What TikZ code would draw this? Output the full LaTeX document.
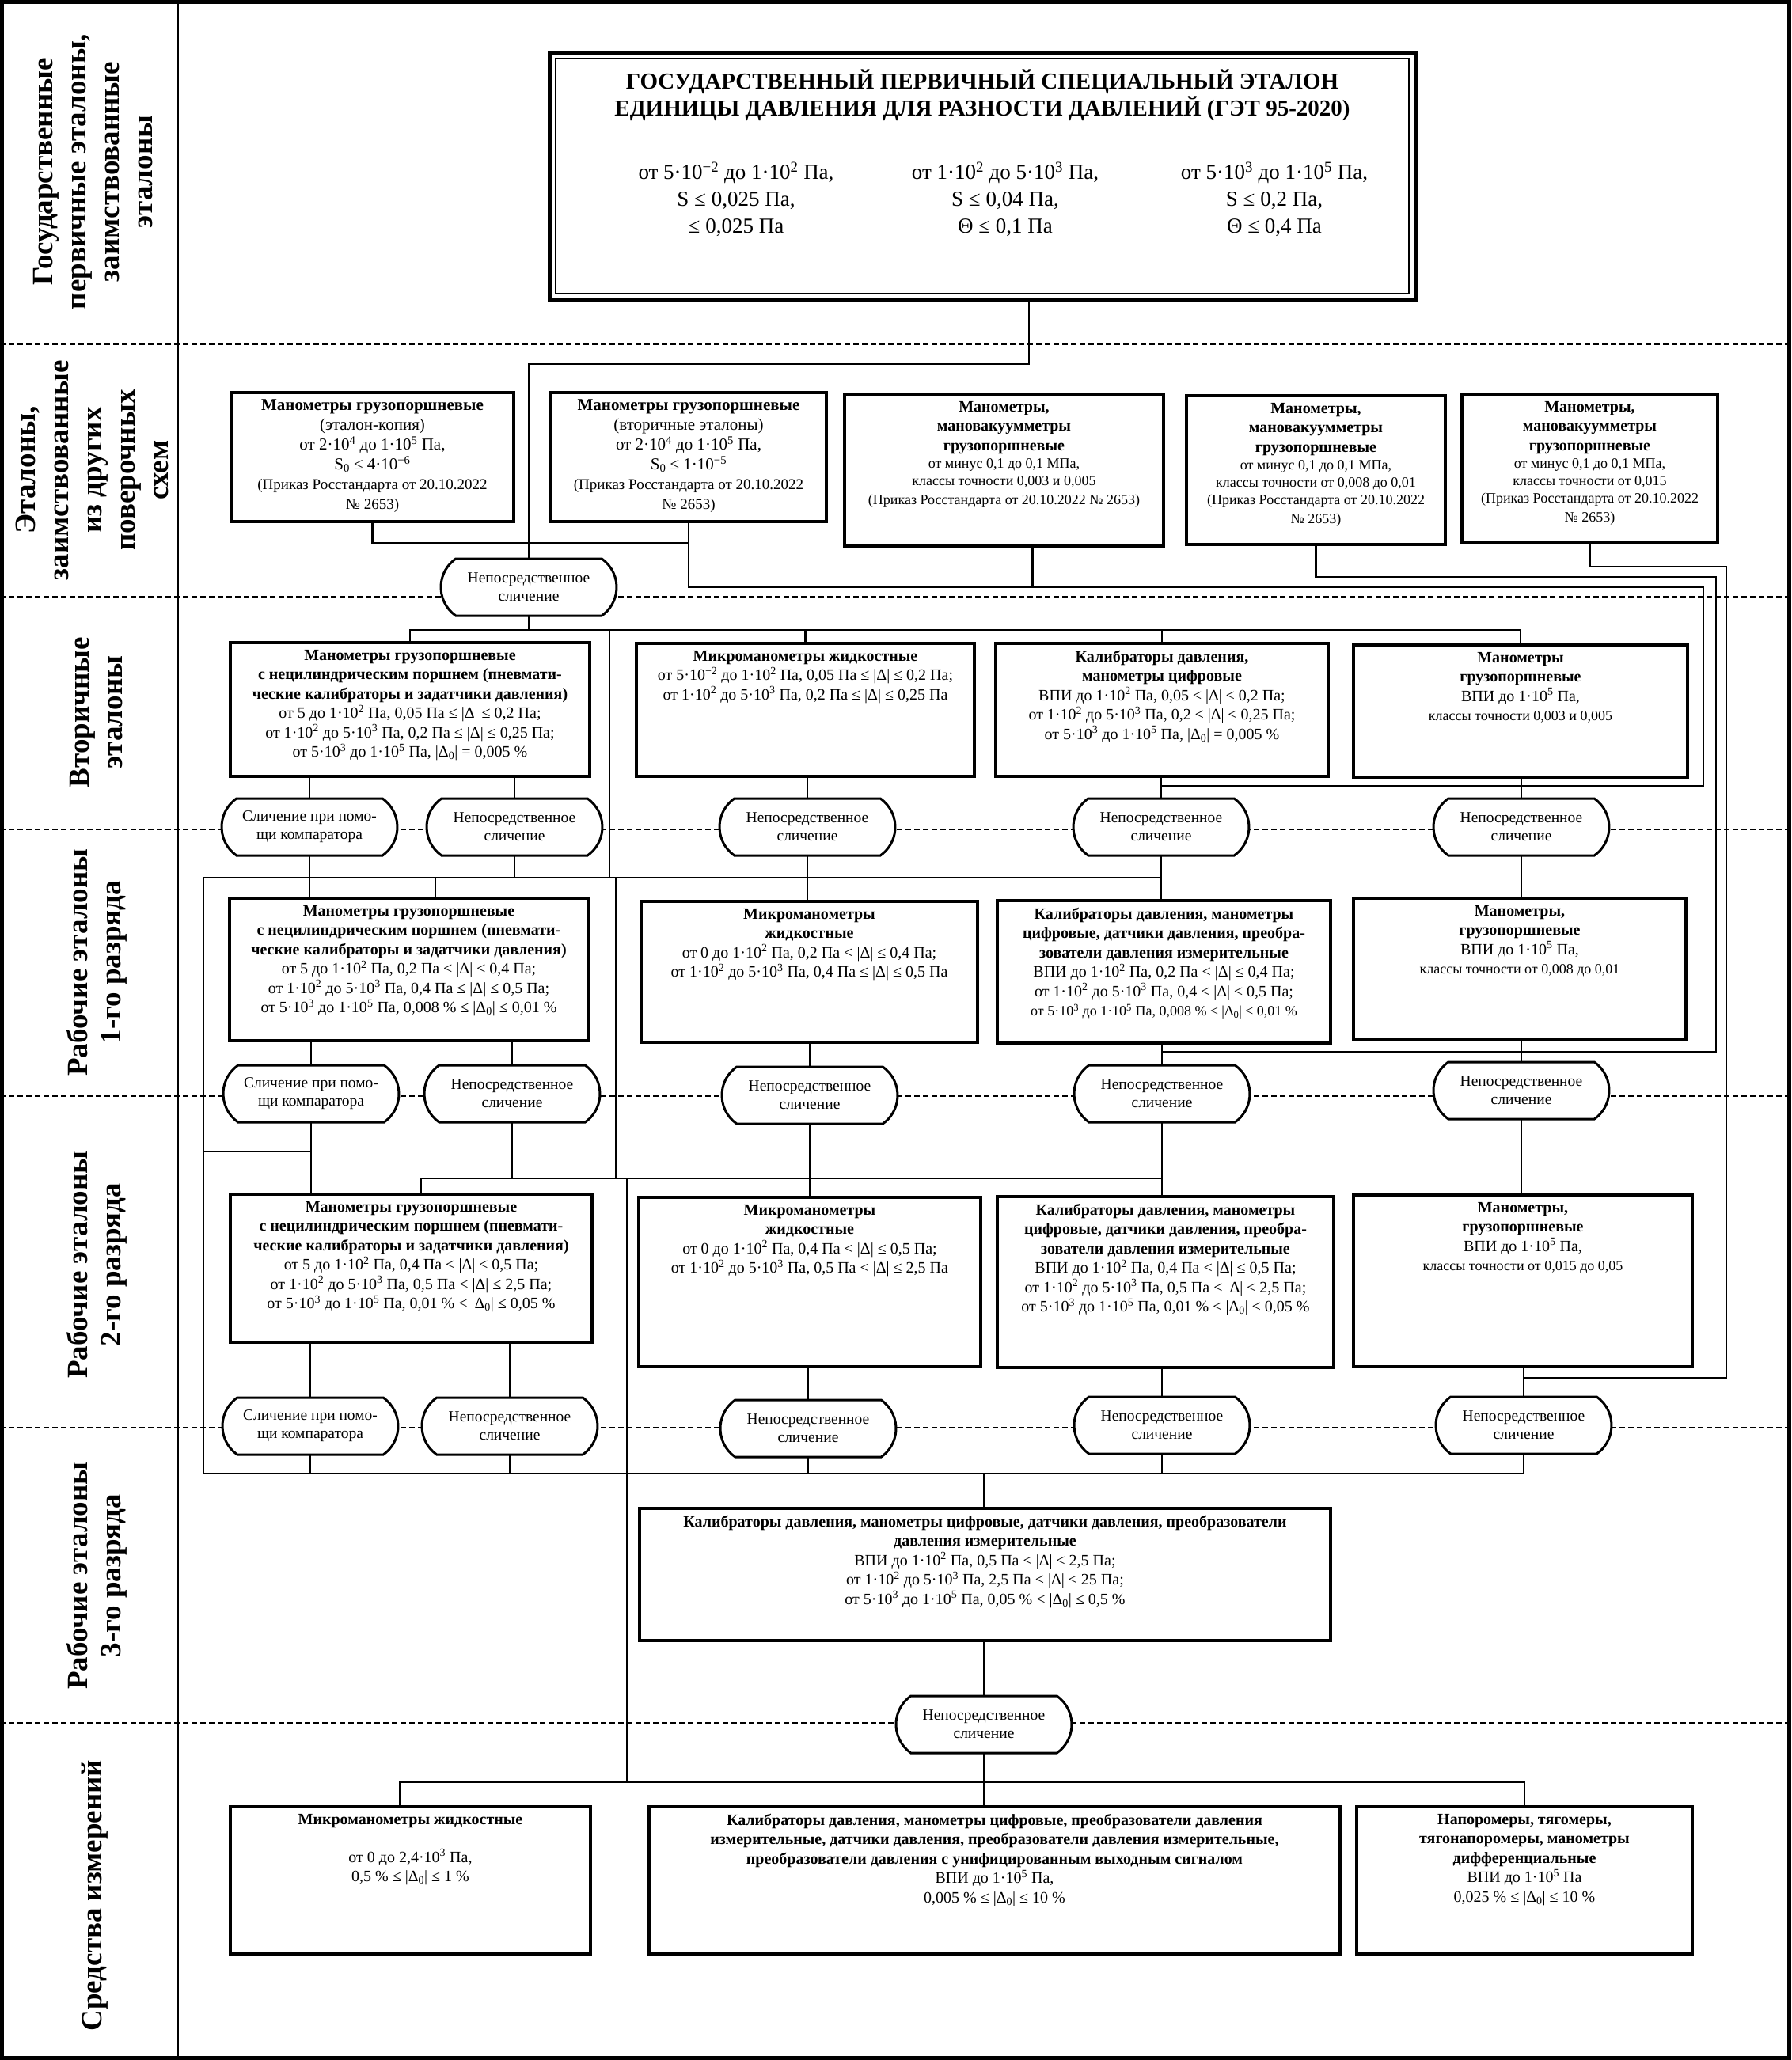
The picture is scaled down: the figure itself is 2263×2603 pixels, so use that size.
\documentclass[tikz,border=0pt]{standalone}
\usepackage{fontspec}
\setmainfont{Liberation Serif}
\usetikzlibrary{shapes.misc, positioning}

\newcommand{\boxfont}{\fontsize{20}{24.5}\selectfont}
\newcommand{\ordfont}{\fontsize{18}{22}\selectfont}
\newcommand{\cmpfont}{\fontsize{19.5}{23}\selectfont}
\newcommand{\rowfont}{\fontsize{37}{42}\selectfont\bfseries}
\newcommand{\tenp}[1]{·10\textsuperscript{#1}}
\newcommand{\dzero}{|Δ\textsubscript{0}|}
\newcommand{\boxcell}[3]{\parbox[c][#2pt][t]{#1pt}{\centering\vspace*{9pt}#3\par}}

\tikzstyle{stdbox} = [rectangle, draw=black, line width=4pt, inner sep=0pt, outer sep=0pt, anchor=north west, fill=white, font=\boxfont]
\tikzstyle{mainbox} = [rectangle, draw=black, line width=5pt, inner sep=0pt, outer sep=0pt, anchor=north west, fill=white]
\tikzstyle{compare} = [rounded rectangle, rounded rectangle arc length=110, draw=black, line width=3pt, minimum width=222pt, minimum height=72pt, inner sep=0pt, outer sep=0pt, align=center, fill=white, font=\cmpfont]
\tikzstyle{rowname} = [rotate=90, align=center, font=\rowfont]
\tikzstyle{link} = [line width=2.5pt]
\tikzstyle{divider} = [line width=2pt, dash pattern=on 7pt off 4pt]

\begin{document}
\begin{tikzpicture}[x=1pt, y=-1pt]
\useasboundingbox (0,0) rectangle (2263,2603);
\draw[line width=5pt] (2.5,2.5) rectangle (2260.5,2600.5);
\draw[line width=3pt] (224,0) -- (224,2603);
\draw[divider] (0,435) -- (2263,435);
\draw[divider] (0,754) -- (2263,754);
\draw[divider] (0,1048) -- (2263,1048);
\draw[divider] (0,1385) -- (2263,1385);
\draw[divider] (0,1804) -- (2263,1804);
\draw[divider] (0,2177) -- (2263,2177);

\node[rowname] (lab1) at (118,217) {Государственные\\первичные эталоны,\\заимствованные\\эталоны};
\node[rowname] (lab2) at (116,594) {Эталоны,\\заимствованные\\из других\\поверочных\\схем};
\node[rowname] (lab3) at (122,900) {Вторичные\\эталоны};
\node[rowname] (lab4) at (122,1216) {Рабочие эталоны\\1-го разряда};
\node[rowname] (lab5) at (122,1598) {Рабочие эталоны\\2-го разряда};
\node[rowname] (lab6) at (122,1991) {Рабочие эталоны\\3-го разряда};
\node[rowname] (lab7) at (120,2395) {Средства измерений};

\node[mainbox] (gost) at (694,66) {\parbox[c][313pt][t]{1094pt}{\centering\vspace*{22pt}%
  {\fontsize{29}{34}\selectfont\bfseries ГОСУДАРСТВЕННЫЙ ПЕРВИЧНЫЙ СПЕЦИАЛЬНЫЙ ЭТАЛОН\\ЕДИНИЦЫ ДАВЛЕНИЯ ДЛЯ РАЗНОСТИ ДАВЛЕНИЙ (ГЭТ 95-2020)\par}%
  \vspace{46pt}%
  {\fontsize{27}{34}\selectfont\hspace*{58pt}%
  \parbox[t]{340pt}{\centering от 5\tenp{−2} до 1\tenp{2} Па,\\S ≤ 0,025 Па,\\≤ 0,025 Па}%
  \parbox[t]{340pt}{\centering от 1\tenp{2} до 5\tenp{3} Па,\\S ≤ 0,04 Па,\\Θ ≤ 0,1 Па}%
  \parbox[t]{340pt}{\centering от 5\tenp{3} до 1\tenp{5} Па,\\S ≤ 0,2 Па,\\Θ ≤ 0,4 Па}\par}}};
\draw[line width=2pt] ([shift={(8,8)}]gost.north west) rectangle ([shift={(-8,-8)}]gost.south east);

\node[stdbox, font=\fontsize{21}{25}\selectfont] (brw1) at (292,496) {\boxcell{357}{163}{{\bfseries Манометры грузопоршневые}\\(эталон-копия)\\от 2\tenp{4} до 1\tenp{5} Па,\\S\textsubscript{0} ≤ 4\tenp{−6}\\{\fontsize{19}{25}\selectfont (Приказ Росстандарта от 20.10.2022\\№ 2653)}}};
\node[stdbox, font=\fontsize{21}{25}\selectfont] (brw2) at (696,496) {\boxcell{348}{163}{{\bfseries Манометры грузопоршневые}\\(вторичные эталоны)\\от 2\tenp{4} до 1\tenp{5} Па,\\S\textsubscript{0} ≤ 1\tenp{−5}\\{\fontsize{19}{25}\selectfont (Приказ Росстандарта от  20.10.2022\\№ 2653)}}};
\node[stdbox] (brw3) at (1067,498) {\boxcell{403}{192}{{\bfseries Манометры,\\мановакуумметры\\грузопоршневые}\\{\ordfont от минус 0,1 до 0,1 МПа,\\классы точности 0,003 и 0,005\\(Приказ Росстандарта от 20.10.2022 № 2653)}}};
\node[stdbox] (brw4) at (1499,500) {\boxcell{327}{188}{{\bfseries Манометры,\\мановакуумметры\\грузопоршневые}\\{\ordfont от минус 0,1 до 0,1 МПа,\\классы точности от 0,008 до 0,01\\(Приказ Росстандарта от 20.10.2022\\№ 2653)}}};
\node[stdbox] (brw5) at (1847,498) {\boxcell{323}{188}{{\bfseries Манометры,\\мановакуумметры\\грузопоршневые}\\{\ordfont от минус 0,1 до 0,1 МПа,\\классы точности от 0,015\\(Приказ Росстандарта от 20.10.2022\\№ 2653)}}};

\node[stdbox] (sec1) at (291,812) {\boxcell{454}{169}{{\bfseries Манометры грузопоршневые\\с нецилиндрическим поршнем (пневмати-\\ческие калибраторы и задатчики давления)}\\от 5 до 1\tenp{2} Па, 0,05 Па ≤ |Δ| ≤ 0,2 Па;\\от 1\tenp{2} до 5\tenp{3} Па, 0,2 Па ≤ |Δ| ≤ 0,25 Па;\\от 5\tenp{3} до 1\tenp{5} Па, \dzero{} = 0,005 \%}};
\node[stdbox] (sec2) at (804,813) {\boxcell{427}{168}{{\bfseries Микроманометры жидкостные}\\от 5\tenp{−2} до 1\tenp{2} Па, 0,05 Па ≤ |Δ| ≤ 0,2 Па;\\от 1\tenp{2} до 5\tenp{3} Па, 0,2 Па ≤ |Δ| ≤ 0,25 Па}};
\node[stdbox] (sec3) at (1258,813) {\boxcell{420}{168}{{\bfseries Калибраторы давления,\\манометры цифровые}\\ВПИ до 1\tenp{2} Па, 0,05 ≤ |Δ| ≤ 0,2 Па;\\от 1\tenp{2} до 5\tenp{3} Па, 0,2 ≤ |Δ| ≤ 0,25 Па;\\от 5\tenp{3} до 1\tenp{5} Па, \dzero{} = 0,005 \%}};
\node[stdbox] (sec4) at (1710,815) {\boxcell{422}{167}{{\bfseries Манометры\\грузопоршневые}\\ВПИ до 1\tenp{5} Па,\\{\ordfont классы точности 0,003 и 0,005}}};

\node[stdbox] (one1) at (290,1135) {\boxcell{453}{180}{{\bfseries Манометры грузопоршневые\\с нецилиндрическим поршнем (пневмати-\\ческие калибраторы и задатчики давления)}\\от 5 до 1\tenp{2} Па, 0,2 Па < |Δ| ≤ 0,4 Па;\\от 1\tenp{2} до 5\tenp{3} Па, 0,4 Па ≤ |Δ| ≤ 0,5 Па;\\от 5\tenp{3} до 1\tenp{5} Па, 0,008 \% ≤ \dzero{} ≤ 0,01 \%}};
\node[stdbox] (one2) at (810,1139) {\boxcell{425}{178}{{\bfseries Микроманометры\\жидкостные}\\от 0 до 1\tenp{2} Па, 0,2 Па < |Δ| ≤ 0,4 Па;\\от 1\tenp{2} до 5\tenp{3} Па, 0,4 Па ≤ |Δ| ≤ 0,5 Па}};
\node[stdbox] (one3) at (1260,1138) {\boxcell{421}{180}{{\bfseries Калибраторы давления, манометры\\цифровые, датчики давления, преобра-\\зователи давления измерительные}\\ВПИ до 1\tenp{2} Па, 0,2 Па < |Δ| ≤ 0,4 Па;\\от 1\tenp{2} до 5\tenp{3} Па, 0,4 ≤ |Δ| ≤ 0,5 Па;\\{\ordfont от 5\tenp{3} до 1\tenp{5} Па, 0,008 \% ≤ \dzero{} ≤ 0,01 \%}}};
\node[stdbox] (one4) at (1710,1135) {\boxcell{420}{178}{{\bfseries Манометры,\\грузопоршневые}\\ВПИ до 1\tenp{5} Па,\\{\ordfont классы точности от 0,008 до 0,01}}};

\node[stdbox] (two1) at (291,1509) {\boxcell{457}{187}{{\bfseries Манометры грузопоршневые\\с нецилиндрическим поршнем (пневмати-\\ческие калибраторы и задатчики давления)}\\от 5 до 1\tenp{2} Па, 0,4 Па < |Δ| ≤ 0,5 Па;\\от 1\tenp{2} до 5\tenp{3} Па, 0,5 Па < |Δ| ≤ 2,5 Па;\\от 5\tenp{3} до 1\tenp{5} Па, 0,01 \% < \dzero{} ≤ 0,05 \%}};
\node[stdbox] (two2) at (807,1513) {\boxcell{432}{214}{{\bfseries Микроманометры\\жидкостные}\\от 0 до 1\tenp{2} Па, 0,4 Па < |Δ| ≤ 0,5 Па;\\от 1\tenp{2} до 5\tenp{3} Па, 0,5 Па < |Δ| ≤ 2,5 Па}};
\node[stdbox] (two3) at (1260,1512) {\boxcell{425}{216}{{\bfseries Калибраторы давления, манометры\\цифровые, датчики давления, преобра-\\зователи давления измерительные}\\ВПИ до 1\tenp{2} Па, 0,4 Па < |Δ| ≤ 0,5 Па;\\от 1\tenp{2} до 5\tenp{3} Па, 0,5 Па < |Δ| ≤ 2,5 Па;\\от 5\tenp{3} до 1\tenp{5} Па, 0,01 \% < \dzero{} ≤ 0,05 \%}};
\node[stdbox] (two4) at (1710,1510) {\boxcell{428}{217}{{\bfseries Манометры,\\грузопоршневые}\\ВПИ до 1\tenp{5} Па,\\{\ordfont классы точности от 0,015 до 0,05}}};

\node[stdbox] (three1) at (808,1906) {\boxcell{873}{167}{{\bfseries Калибраторы давления, манометры цифровые, датчики давления, преобразователи\\давления измерительные}\\ВПИ до 1\tenp{2} Па, 0,5 Па < |Δ| ≤ 2,5 Па;\\от 1\tenp{2} до 5\tenp{3} Па, 2,5 Па < |Δ| ≤ 25 Па;\\от 5\tenp{3} до 1\tenp{5} Па, 0,05 \% < \dzero{} ≤ 0,5 \%}};

\node[stdbox] (meas1) at (291,2283) {\boxcell{455}{186}{{\bfseries Микроманометры жидкостные}\\[23.5pt]от 0 до 2,4\tenp{3} Па,\\0,5 \% ≤ \dzero{} ≤ 1 \%}};
\node[stdbox] (meas2) at (820,2283) {\boxcell{873}{186}{{\bfseries Калибраторы давления, манометры цифровые, преобразователи давления\\измерительные, датчики давления, преобразователи давления измерительные,\\преобразователи давления с унифицированным выходным сигналом}\\ВПИ до 1\tenp{5} Па,\\0,005 \% ≤ \dzero{} ≤ 10 \%}};
\node[stdbox] (meas3) at (1714,2283) {\boxcell{424}{186}{{\bfseries Напоромеры, тягомеры,\\тягонапоромеры, манометры\\дифференциальные}\\ВПИ до 1\tenp{5} Па\\0,025 \% ≤ \dzero{} ≤ 10 \%}};

\node[compare] (cmp2) at (668,742) {Непосредственное\\сличение};
\node[compare] (cmp3a) at (391,1045) {Сличение при помо-\\щи компаратора};
\node[compare] (cmp3b) at (650,1045) {Непосредственное\\сличение};
\node[compare] (cmp3c) at (1020,1045) {Непосредственное\\сличение};
\node[compare] (cmp3d) at (1467,1045) {Непосредственное\\сличение};
\node[compare] (cmp3e) at (1922,1045) {Непосредственное\\сличение};
\node[compare] (cmp4a) at (393,1382) {Сличение при помо-\\щи компаратора};
\node[compare] (cmp4b) at (647,1382) {Непосредственное\\сличение};
\node[compare] (cmp4c) at (1023,1384) {Непосредственное\\сличение};
\node[compare] (cmp4d) at (1468,1382) {Непосредственное\\сличение};
\node[compare] (cmp4e) at (1922,1378) {Непосредственное\\сличение};
\node[compare] (cmp5a) at (392,1802) {Сличение при помо-\\щи компаратора};
\node[compare] (cmp5b) at (644,1802) {Непосредственное\\сличение};
\node[compare] (cmp5c) at (1021,1805) {Непосредственное\\сличение};
\node[compare] (cmp5d) at (1468,1801) {Непосредственное\\сличение};
\node[compare] (cmp5e) at (1925,1801) {Непосредственное\\сличение};
\node[compare] (cmp6) at (1243,2179) {Непосредственное\\сличение};

\coordinate (lv1) at (1300,460);
\coordinate (lvA) at (0,686);
\coordinate (lvB) at (0,993);
\coordinate (lvC) at (0,1329);
\coordinate (lvD) at (0,1741);
\coordinate (lv3) at (0,796);
\coordinate (lv4) at (0,1109);
\coordinate (lv5) at (0,1489);
\coordinate (lv6) at (0,1862);
\coordinate (lv7) at (0,2252);
\coordinate (rail1) at (2152,742);
\coordinate (rail2) at (2168,729);
\coordinate (rail3) at (2181,716);
\coordinate (c3drop) at ([xshift=36pt]brw3.south);
\coordinate (mid1) at (770,796);
\coordinate (mid2) at (778,1109);
\coordinate (mid3) at (792,1489);
\coordinate (lspine) at (257,1109);
\coordinate (lbranch) at (257,1455);
\coordinate (drop4) at (550,1109);
\coordinate (drop5) at (532,1489);
\coordinate (drop7) at (505,2252);

\draw[link] (lv1 |- gost.south) -- (lv1) -| (cmp2.north);
\draw[link] (brw1.south) |- (brw2.south |- lvA);
\draw[link] (brw2.south) |- (rail1) |- (cmp3d.north |- lvB);
\draw[link] (c3drop) -- (c3drop |- rail1);
\draw[link] (brw4.south) |- (rail2) |- (cmp4d.north |- lvC);
\draw[link] (brw5.south) |- (rail3) |- (cmp5e.north |- lvD);

\draw[link] (cmp2.south) -- (cmp2.south |- lv3);
\draw[link] (sec1.north) -- (sec1.north |- lv3) -- (sec4.north |- lv3) -- (sec4.north);
\draw[link] (sec2.north) -- (sec2.north |- lv3);
\draw[link] (sec3.north) -- (sec3.north |- lv3);
\draw[link] (mid1) -- (mid1 |- lv4);

\draw[link] (cmp3a.north |- sec1.south) -- (cmp3a.north);
\draw[link] (cmp3b.north |- sec1.south) -- (cmp3b.north);
\draw[link] (cmp3c.north |- sec2.south) -- (cmp3c.north);
\draw[link] (cmp3d.north |- sec3.south) -- (cmp3d.north);
\draw[link] (cmp3e.north |- sec4.south) -- (cmp3e.north);

\draw[link] (cmp3a.south) -- (cmp3a.south |- one1.north);
\draw[link] (cmp3b.south) -- (cmp3b.south |- lv4);
\draw[link] (lspine) -- (cmp3d.south |- lv4);
\draw[link] (drop4) -- (drop4 |- one1.north);
\draw[link] (cmp3c.south) -- (cmp3c.south |- one2.north);
\draw[link] (cmp3d.south) -- (cmp3d.south |- one3.north);
\draw[link] (cmp3e.south) -- (cmp3e.south |- one4.north);
\draw[link] (mid2) -- (mid2 |- lv5);
\draw[link] (lspine) -- (lspine |- lv6);
\draw[link] (lbranch) -- (cmp4a.south |- lbranch);

\draw[link] (cmp4a.north |- one1.south) -- (cmp4a.north);
\draw[link] (cmp4b.north |- one1.south) -- (cmp4b.north);
\draw[link] (cmp4c.north |- one2.south) -- (cmp4c.north);
\draw[link] (cmp4d.north |- one3.south) -- (cmp4d.north);
\draw[link] (cmp4e.north |- one4.south) -- (cmp4e.north);

\draw[link] (cmp4a.south) -- (cmp4a.south |- two1.north);
\draw[link] (cmp4b.south) -- (cmp4b.south |- lv5);
\draw[link] (drop5 |- two1.north) -- (drop5) -- (cmp4d.south |- lv5);
\draw[link] (cmp4c.south) -- (cmp4c.south |- two2.north);
\draw[link] (cmp4d.south) -- (cmp4d.south |- two3.north);
\draw[link] (cmp4e.south) -- (cmp4e.south |- two4.north);
\draw[link] (mid3) -- (mid3 |- lv7);

\draw[link] (cmp5a.north |- two1.south) -- (cmp5a.north);
\draw[link] (cmp5b.north |- two1.south) -- (cmp5b.north);
\draw[link] (cmp5c.north |- two2.south) -- (cmp5c.north);
\draw[link] (cmp5d.north |- two3.south) -- (cmp5d.north);
\draw[link] (cmp5e.north |- two4.south) -- (cmp5e.north);

\draw[link] (cmp5a.south) -- (cmp5a.south |- lv6);
\draw[link] (cmp5b.south) -- (cmp5b.south |- lv6);
\draw[link] (cmp5c.south) -- (cmp5c.south |- lv6);
\draw[link] (cmp5d.south) -- (cmp5d.south |- lv6);
\draw[link] (cmp5e.south) -- (cmp5e.south |- lv6);
\draw[link] (lspine |- lv6) -- (cmp5e.south |- lv6);
\draw[link] (cmp6.north |- lv6) -- (cmp6.north |- three1.north);
\draw[link] (cmp6.north |- three1.south) -- (cmp6.north);

\draw[link] (cmp6.south) -- (cmp6.south |- meas2.north);
\draw[link] (drop7 |- meas1.north) -- (drop7) -- (meas3.north |- lv7) -- (meas3.north);
\end{tikzpicture}
\end{document}
